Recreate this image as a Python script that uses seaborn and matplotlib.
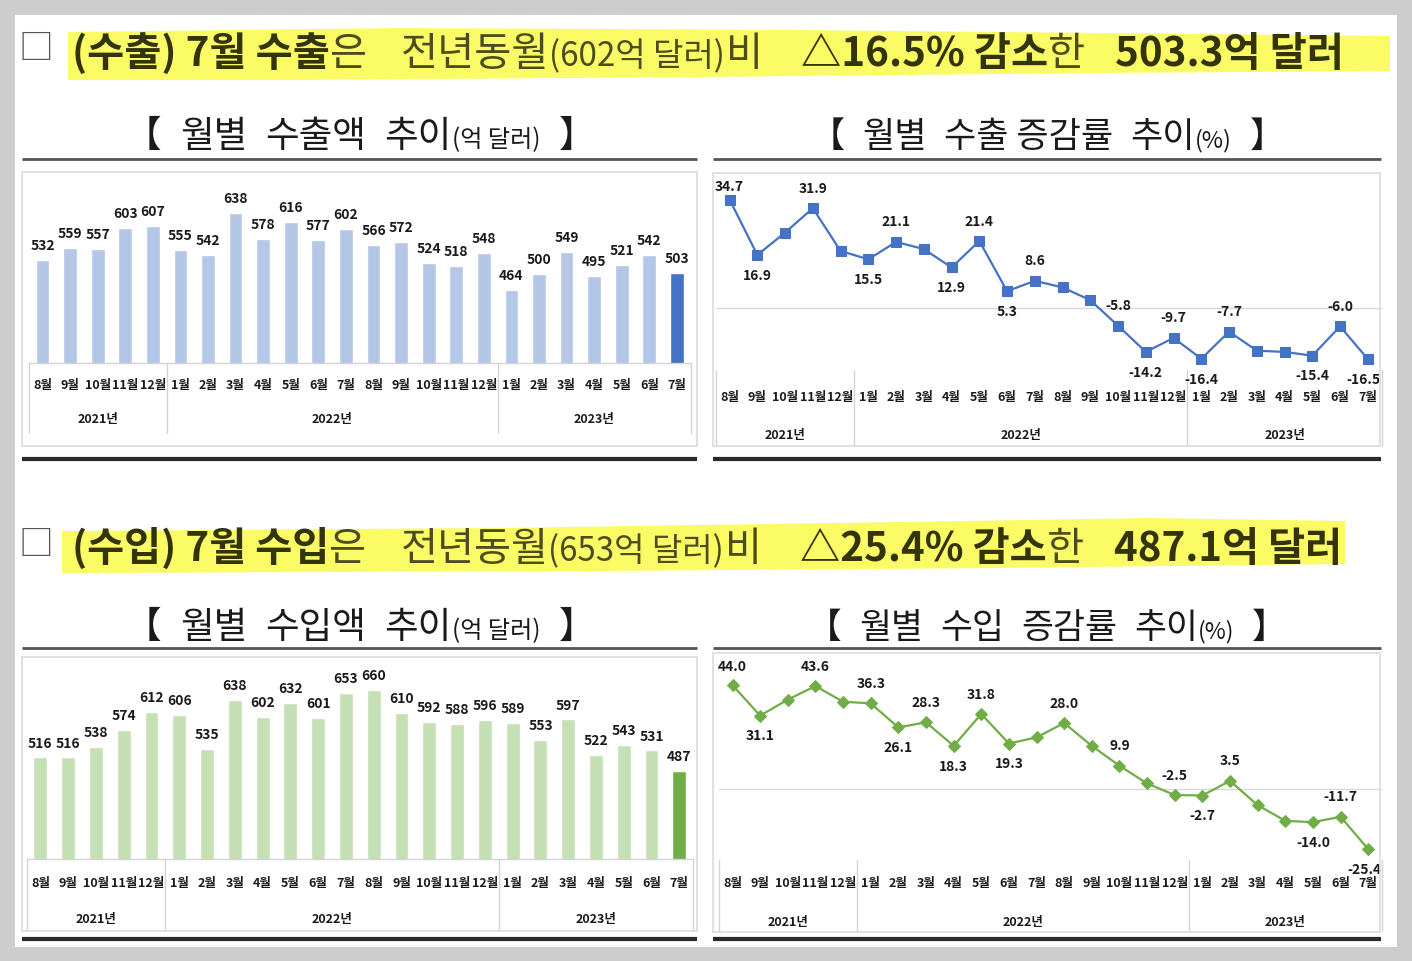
import numpy as np
import pandas as pd
import matplotlib
matplotlib.use("Agg")
import matplotlib.pyplot as plt
import matplotlib.transforms as mtransforms
from matplotlib.patches import Rectangle, Polygon
from matplotlib.lines import Line2D
import seaborn as sns

# ---------------- data ----------------
months = ["8월", "9월", "10월", "11월", "12월",
          "1월", "2월", "3월", "4월", "5월", "6월", "7월", "8월", "9월", "10월", "11월", "12월",
          "1월", "2월", "3월", "4월", "5월", "6월", "7월"]
periods = ["2021-08", "2021-09", "2021-10", "2021-11", "2021-12",
           "2022-01", "2022-02", "2022-03", "2022-04", "2022-05", "2022-06", "2022-07",
           "2022-08", "2022-09", "2022-10", "2022-11", "2022-12",
           "2023-01", "2023-02", "2023-03", "2023-04", "2023-05", "2023-06", "2023-07"]
year_labels = ["2021년", "2022년", "2023년"]
year_first_idx = [0, 5, 17]
year_last_idx = [4, 16, 23]

export_amount = [532, 559, 557, 603, 607, 555, 542, 638, 578, 616, 577, 602,
                 566, 572, 524, 518, 548, 464, 500, 549, 495, 521, 542, 503]
import_amount = [516, 516, 538, 574, 612, 606, 535, 638, 602, 632, 601, 653,
                 660, 610, 592, 588, 596, 589, 553, 597, 522, 543, 531, 487]
export_growth = [34.7, 16.9, 24.1, 31.9, 18.2, 15.5, 21.1, 18.8, 12.9, 21.4, 5.3, 8.6,
                 6.5, 2.4, -5.8, -14.2, -9.7, -16.4, -7.7, -13.8, -14.2, -15.4, -6.0, -16.5]
import_growth = [44.0, 31.1, 37.9, 43.6, 37.0, 36.3, 26.1, 28.3, 18.3, 31.8, 19.3, 21.9,
                 28.0, 18.3, 9.9, 2.4, -2.5, -2.7, 3.5, -6.8, -13.4, -14.0, -11.7, -25.4]

# label placement (style): 'a' above, 'b' below, '' none
export_label_pos = ['a', 'b', '', 'a', '', 'b', 'a', '', 'b', 'a', 'b', 'a',
                    '', '', 'a', 'b', 'a', 'b', 'a', '', '', 'b', 'a', 'b']
import_label_pos = ['a', 'b', '', 'a', '', 'a', 'b', 'a', 'b', 'a', 'b', '',
                    'a', '', 'a', '', 'a', 'b', 'a', '', '', 'b', 'a', 'b']

# ---------------- style ----------------
sns.set_style("white")
plt.rcParams['font.family'] = ['Noto Sans CJK KR', 'DejaVu Sans']
plt.rcParams['axes.unicode_minus'] = False

W, H = 1412, 961
fig = plt.figure(figsize=(W / 100, H / 100), dpi=100, facecolor='#cdcdcd')


def fx(x):
    return x / W


def fy(y):
    return 1 - y / H


def add_rect(x0, y0, x1, y1, **kw):
    r = Rectangle((fx(x0), fy(y1)), fx(x1) - fx(x0), fy(y0) - fy(y1),
                  transform=fig.transFigure, **kw)
    fig.add_artist(r)
    return r


def add_hline(x0, x1, y, lw, color):
    fig.add_artist(Line2D([fx(x0), fx(x1)], [fy(y), fy(y)], transform=fig.transFigure,
                          lw=lw, color=color, solid_capstyle='butt', zorder=2))


def add_poly(pts, **kw):
    p = Polygon([(fx(a), fy(b)) for a, b in pts], closed=True, transform=fig.transFigure, **kw)
    fig.add_artist(p)


# white page
add_rect(15, 15, 1397, 947, facecolor='white', edgecolor='none', zorder=-10)

renderer = fig.canvas.get_renderer()


def seg_line(segments, x, y_base, width, align='left', base_size=20):
    """segments: tuples (text, scale, weight, color) or float gaps (in em)."""
    items = []
    total = 0.0
    base_px = base_size * 100 / 72
    for s in segments:
        if isinstance(s, (int, float)):
            items.append(('gap', s * base_px))
            total += s * base_px
        else:
            txt, sc, wt, col = s
            t = fig.text(0, 0, txt, fontsize=base_size * sc, fontweight=wt, color=col,
                         va='baseline', ha='left', zorder=5)
            w = t.get_window_extent(renderer).width
            items.append((t, w))
            total += w
    k = width / total
    cur = x if align == 'left' else x - width / 2
    for it, w in items:
        if not isinstance(it, str):
            it.set_fontsize(it.get_fontsize() * k)
            it.set_position((fx(cur), fy(y_base)))
        cur += w * k


# ---------------- headers ----------------
HB = '#34340a'
HN = '#4c4c1c'
add_poly([(68, 32), (400, 28), (800, 30), (1100, 33), (1390, 36), (1390, 71),
          (1100, 73), (700, 77), (300, 80), (68, 80)],
         facecolor='#fbfb66', edgecolor='none', zorder=-5)
add_poly([(62, 531), (500, 528), (900, 522), (1150, 518), (1345, 521), (1345, 564),
          (1000, 568), (600, 571), (62, 573)],
         facecolor='#fbfb66', edgecolor='none', zorder=-5)

fig.text(fx(36), fy(50), "□", ha='center', va='center', fontsize=25, color='#555555', zorder=5)
fig.text(fx(36), fy(545), "□", ha='center', va='center', fontsize=25, color='#555555', zorder=5)

seg_line([("(수출) 7월 수출", 1, 'bold', HB), ("은", 1, 'normal', HN), 0.85,
          ("전년동월", 1, 'normal', HN), ("(602억 달러)", 0.82, 'normal', HN), ("비", 1, 'normal', HN), 0.95,
          ("△16.5% 감소", 1, 'bold', HB), ("한", 1, 'normal', HN), 0.75,
          ("503.3억 달러", 1, 'bold', HB)], 72, 66, 1272)
seg_line([("(수입) 7월 수입", 1, 'bold', HB), ("은", 1, 'normal', HN), 0.85,
          ("전년동월", 1, 'normal', HN), ("(653억 달러)", 0.82, 'normal', HN), ("비", 1, 'normal', HN), 0.95,
          ("△25.4% 감소", 1, 'bold', HB), ("한", 1, 'normal', HN), 0.75,
          ("487.1억 달러", 1, 'bold', HB)], 72, 561, 1270)

ST = '#1a1a1a'
seg_line([("【", 1, 'normal', ST), 0.5, ("월별", 1, 'normal', ST), 0.5, ("수출액", 1, 'normal', ST), 0.5,
          ("추이", 1, 'normal', ST), ("(억 달러)", 0.66, 'normal', ST), 0.5, ("】", 1, 'normal', ST)],
         360, 147, 470, align='center')
seg_line([("【", 1, 'normal', ST), 0.5, ("월별", 1, 'normal', ST), 0.5, ("수출 증감률", 1, 'normal', ST), 0.5,
          ("추이", 1, 'normal', ST), ("(%)", 0.66, 'normal', ST), 0.5, ("】", 1, 'normal', ST)],
         1047, 147, 475, align='center')
seg_line([("【", 1, 'normal', ST), 0.5, ("월별", 1, 'normal', ST), 0.5, ("수입액", 1, 'normal', ST), 0.5,
          ("추이", 1, 'normal', ST), ("(억 달러)", 0.66, 'normal', ST), 0.5, ("】", 1, 'normal', ST)],
         360, 638, 470, align='center')
seg_line([("【", 1, 'normal', ST), 0.5, ("월별", 1, 'normal', ST), 0.5, ("수입", 1, 'normal', ST), 0.5,
          ("증감률", 1, 'normal', ST), 0.5,
          ("추이", 1, 'normal', ST), ("(%)", 0.66, 'normal', ST), 0.5, ("】", 1, 'normal', ST)],
         1047, 638, 480, align='center')

# rules and frames
for y in (159, 648):
    add_hline(22, 697, y, 2.0, '#555555')
    add_hline(713, 1381, y, 2.0, '#555555')
for y in (459, 939):
    add_hline(22, 697, y, 3.0, '#2a2a2a')
    add_hline(713, 1381, y, 3.0, '#2a2a2a')
BOX = '#dcdcdc'
add_rect(22, 172, 697, 446, facecolor='none', edgecolor=BOX, lw=1.2, zorder=1)
add_rect(713, 173, 1380, 446, facecolor='none', edgecolor=BOX, lw=1.2, zorder=1)
add_rect(22, 657, 697, 931, facecolor='none', edgecolor=BOX, lw=1.2, zorder=1)
add_rect(713, 653, 1380, 932, facecolor='none', edgecolor=BOX, lw=1.2, zorder=1)


def axes_px(x0, y0, x1, y1):
    ax = fig.add_axes([fx(x0), fy(y1), fx(x1) - fx(x0), fy(y0) - fy(y1)])
    ax.set_facecolor('none')
    return ax


def cat_axis(ax, h_px, month_dy, year_dy, sep_len, show_base):
    ax.set_xlim(-0.5, 23.5)
    ax.set_xticks(range(len(months)))
    ax.set_xticklabels(months, fontsize=9, fontweight='bold', va='center', color='#1a1a1a')
    ax.tick_params(axis='x', length=0, pad=month_dy * 72 / 100)
    ax.set_yticks([])
    ax.set_xlabel('')
    ax.set_ylabel('')
    for sp in ax.spines.values():
        sp.set_visible(False)
    if show_base:
        ax.spines['bottom'].set_visible(True)
        ax.spines['bottom'].set_color('#d4d4d4')
        ax.spines['bottom'].set_linewidth(1)
    tr = mtransforms.blended_transform_factory(ax.transData, ax.transAxes)
    bounds = [year_first_idx[0] - 0.5] + [b + 0.5 for b in year_last_idx]
    for b in bounds:
        ax.plot([b, b], [0, -sep_len / h_px], transform=tr, color='#d4d4d4', lw=1, clip_on=False)
    for lab, a, b in zip(year_labels, year_first_idx, year_last_idx):
        ax.text((a + b) / 2, -year_dy / h_px, lab, transform=tr, ha='center', va='center',
                fontsize=9, fontweight='bold', color='#1a1a1a')


def bar_panel(box, values, light, dark, ylim, month_dy, year_dy, sep_len):
    x0, y0, x1, y1 = box
    ax = axes_px(x0, y0, x1, y1)
    df = pd.DataFrame({'period': periods, 'value': values,
                       'kind': ['past'] * (len(values) - 1) + ['current']})
    sns.barplot(data=df, x='period', y='value', hue='kind', order=periods,
                hue_order=['past', 'current'], palette={'past': light, 'current': dark},
                dodge=False, width=0.5, saturation=1, legend=False, ax=ax)
    ax.set_ylim(*ylim)
    for i, v in enumerate(values):
        ax.annotate(f"{v}", (i, v), xytext=(0, 10), textcoords='offset points',
                    ha='center', va='center', fontsize=10, fontweight='bold', color='#1a1a1a')
    cat_axis(ax, y1 - y0, month_dy, year_dy, sep_len, True)
    return ax


def line_panel(box, values, pos, color, marker, msize, ylim, month_dy, year_dy, sep_len, first_off=14):
    x0, y0, x1, y1 = box
    ax = axes_px(x0, y0, x1, y1)
    ax.axhline(0, color='#d9d9d9', lw=1, zorder=0)
    sns.lineplot(x=np.arange(len(values)), y=values, ax=ax, color=color, lw=1.6,
                 marker=marker, markersize=msize, markeredgecolor=color, markerfacecolor=color)
    ax.set_ylim(*ylim)
    n = len(values)
    for i, (v, p) in enumerate(zip(values, pos)):
        if not p:
            continue
        dy = 14 if p == 'a' else -15
        if i == 0 and p == 'a':
            dy = first_off
        dx = -3 if i == n - 1 else 0
        ax.annotate(f"{v:.1f}", (i, v), xytext=(dx, dy), textcoords='offset points',
                    ha='center', va='center', fontsize=10, fontweight='bold', color='#1a1a1a',
                    annotation_clip=False)
    cat_axis(ax, y1 - y0, month_dy, year_dy, sep_len, False)
    return ax


bar_panel((28.7, 185, 690.7, 363), export_amount, '#b4c7e7', '#4472c4', (300, 700), 22, 57, 70)
line_panel((715.7, 183, 1381.7, 370), export_growth, export_label_pos, '#4472c4', 's', 7,
           (-20, 40), 27, 65, 76, first_off=9)
bar_panel((26.5, 671, 693.2, 859), import_amount, '#c5e0b4', '#70ad47', (300, 700), 25, 61, 71)
line_panel((718.7, 671, 1382, 860), import_growth, import_label_pos, '#70ad47', 'D', 6,
           (-30, 50), 24, 62, 71, first_off=13)

fig.savefig("out.png", dpi=100, facecolor=fig.get_facecolor())
